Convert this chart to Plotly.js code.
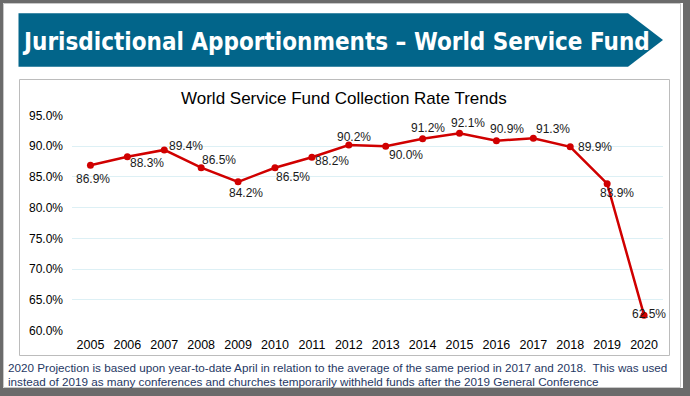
<!DOCTYPE html>
<html>
<head>
<meta charset="utf-8">
<script src="https://cdn.plot.ly/plotly-3.0.1.min.js"></script>
<style>html,body{margin:0;padding:0;background:#fff;}#chart{width:690px;height:396px;}</style>
</head>
<body>
<div id="chart"></div>
<script>
// ---- data ----
var years = ["2005","2006","2007","2008","2009","2010","2011","2012","2013","2014","2015","2016","2017","2018","2019","2020"];
var collectionRate = [86.9, 88.3, 89.4, 86.5, 84.2, 86.5, 88.2, 90.2, 90.0, 91.2, 92.1, 90.9, 91.3, 89.9, 83.9, 62.5];
var yTicks = [60, 65, 70, 75, 80, 85, 90, 95];
var bannerTitle = "Jurisdictional Apportionments \u2013 World Service Fund";
var chartTitle = "World Service Fund Collection Rate Trends";
var noteLines = [
  "2020 Projection is based upon year-to-date April in relation to the average of the same period in 2017 and 2018.  This was used",
  "instead of 2019 as many conferences and churches temporarily withheld funds after the 2019 General Conference"
];

// ---- layout helpers (pixel -> paper) ----
var W = 690, H = 396;
function px(x){ return x / W; }
function py(y){ return 1 - y / H; }

// label offsets (style) in pixels: [dx, dy] (dy positive = down)
var labelOffsets = [[3,14],[20,6],[22,-4],[18,-8],[8,11],[18,9],[20,4],[5,-8],[20,9],[5,-11],[8,-10],[11,-12],[20,-9],[25,0],[10,9],[5,-1]];

var labelFont = {family: "Liberation Sans, Arial, sans-serif", size: 12, color: "#1a1a1a"};

var annotations = [];
for (var i = 0; i < years.length; i++) {
  annotations.push({
    x: i, y: collectionRate[i], xref: "x", yref: "y",
    text: collectionRate[i].toFixed(1) + "%",
    showarrow: false,
    xshift: labelOffsets[i][0], yshift: -labelOffsets[i][1],
    font: labelFont
  });
}
annotations.push({
  x: px(344), y: py(98), xref: "paper", yref: "paper",
  xanchor: "center", yanchor: "middle",
  text: chartTitle, showarrow: false,
  font: {family: "Liberation Sans, Arial, sans-serif", size: 17, color: "#000"}
});
annotations.push({
  x: px(20), y: py(42), xref: "paper", yref: "paper",
  xanchor: "left", yanchor: "middle",
  text: bannerTitle, showarrow: false,
  font: {family: "DejaVu Sans Condensed, Liberation Sans Narrow, Arial Narrow, sans-serif", size: 24, color: "#ffffff", weight: "bold"}
});
var noteY = [367, 381];
for (var k = 0; k < noteLines.length; k++) {
  annotations.push({
    x: px(6), y: py(noteY[k]), xref: "paper", yref: "paper",
    xanchor: "left", yanchor: "middle",
    text: noteLines[k], showarrow: false,
    font: {family: "Liberation Sans, Arial, sans-serif", size: 11.7, color: "#1F3864"}
  });
}

var bannerPath = "M " + px(18.5) + " " + py(13.3) +
  " L " + px(628) + " " + py(13.3) +
  " L " + px(663) + " " + py(40) +
  " L " + px(628) + " " + py(66.7) +
  " L " + px(18.5) + " " + py(66.7) + " Z";

var shapes = [
  {type: "rect", xref: "paper", yref: "paper", layer: "below",
   x0: px(3), x1: px(683), y0: py(388), y1: py(3),
   fillcolor: "#ffffff", line: {width: 0}},
  {type: "rect", xref: "paper", yref: "paper", layer: "below",
   x0: px(3.5), x1: px(680.5), y0: py(387.5), y1: py(3.5),
   fillcolor: "rgba(0,0,0,0)", line: {width: 1, color: "#c8c8c8"}},
  {type: "path", xref: "paper", yref: "paper", layer: "below",
   path: bannerPath, fillcolor: "#02658A", line: {width: 0}},
  {type: "rect", xref: "paper", yref: "paper", layer: "below",
   x0: px(19.5), x1: px(669.5), y0: py(355.5), y1: py(79.5),
   fillcolor: "#ffffff", line: {width: 1, color: "#bcbcbc"}}
];

var trace = {
  type: "scatter", mode: "lines+markers",
  x: years, y: collectionRate,
  line: {color: "#D00000", width: 2.5},
  marker: {color: "#D00000", size: 7},
  hoverinfo: "skip"
};

var layout = {
  width: W, height: H,
  margin: {l: 0, r: 0, t: 0, b: 0},
  paper_bgcolor: "#6b6b6b",
  plot_bgcolor: "rgba(0,0,0,0)",
  showlegend: false,
  xaxis: {
    type: "category", domain: [px(72), px(662.5)], range: [-0.5, 15.5],
    showgrid: false, zeroline: false, showline: false, ticks: "",
    ticklabelstandoff: 5,
    tickfont: {family: "Liberation Sans, Arial, sans-serif", size: 12.5, color: "#000"},
    fixedrange: true
  },
  yaxis: {
    domain: [py(330.5), py(115.5)], range: [60, 95],
    tickvals: yTicks, ticktext: yTicks.map(function(v){ return v.toFixed(1) + "%"; }),
    showgrid: true, gridcolor: "#DDF0F5", gridwidth: 1,
    zeroline: false, showline: false, ticks: "",
    ticklabelstandoff: 8,
    tickfont: {family: "Liberation Sans, Arial, sans-serif", size: 12, color: "#000"},
    fixedrange: true
  },
  shapes: shapes,
  annotations: annotations
};

Plotly.newPlot("chart", [trace], layout, {displayModeBar: false, staticPlot: true});
</script>
</body>
</html>
